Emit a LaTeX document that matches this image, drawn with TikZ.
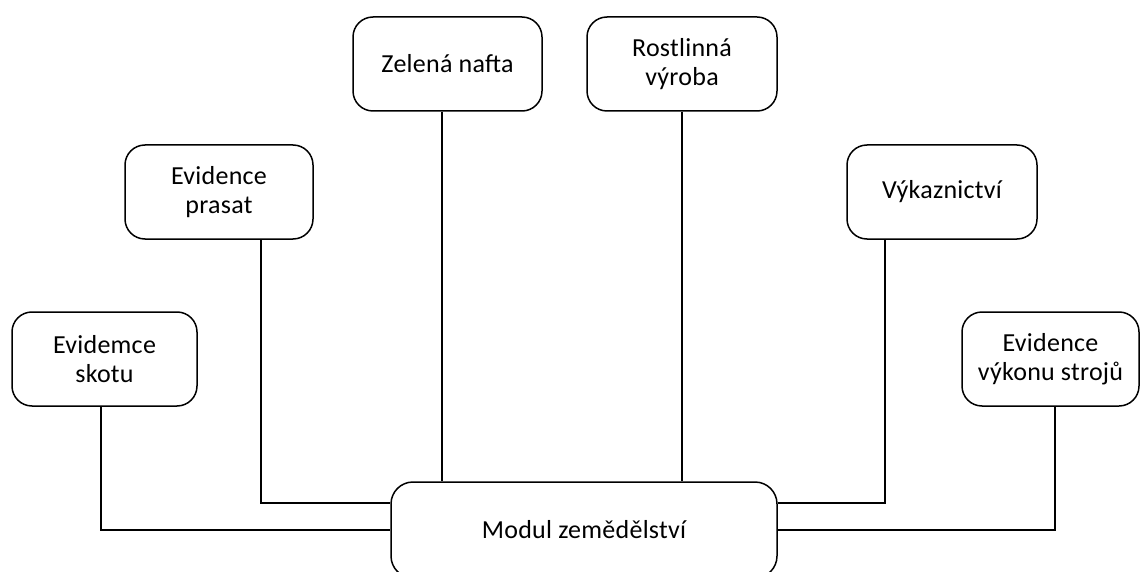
\documentclass[tikz,border=0pt]{standalone}
\usepackage{fontspec}
\setmainfont{Carlito}[LetterSpace=1]
\begin{document}
\begin{tikzpicture}[x=1pt,y=-1pt,
  box/.style={draw,line width=1.5pt,rounded corners=20pt,align=center,
    inner sep=0pt,minimum height=94pt,font=\fontsize{26}{29}\selectfont},
  link/.style={line width=1.5pt}]
\clip (0,0) rectangle (1140,572);
\node[box,minimum width=185pt] (skotu) at (104.5,359) {Evidemce\\skotu};
\node[box,minimum width=188pt] (prasat) at (219,192) {Evidence\\prasat};
\node[box,minimum width=189pt] (nafta) at (447.5,64) {Zelená nafta};
\node[box,minimum width=190pt] (rost) at (682,64) {Rostlinná\\výroba};
\node[box,minimum width=190pt] (vykaz) at (942,192) {Výkaznictví};
\node[box,minimum width=177pt] (stroju) at (1050.5,359) {Evidence\\výkonu strojů};
\node[box,minimum width=386pt,minimum height=96pt,rounded corners=22pt] (main) at (584,530) {Modul zemědělství};
\draw[link] ([xshift=-3.5pt]skotu.south) |- (main.west);
\draw[link] ([xshift=42pt]prasat.south) |- ([yshift=27pt]main.west);
\draw[link] ([xshift=-5.5pt]nafta.south) -- ([xshift=-5.5pt]nafta.south |- main.north);
\draw[link] (rost.south) -- (rost.south |- main.north);
\draw[link] ([xshift=-57pt]vykaz.south) |- ([yshift=27pt]main.east);
\draw[link] ([xshift=4.5pt]stroju.south) |- (main.east);
\end{tikzpicture}
\end{document}
